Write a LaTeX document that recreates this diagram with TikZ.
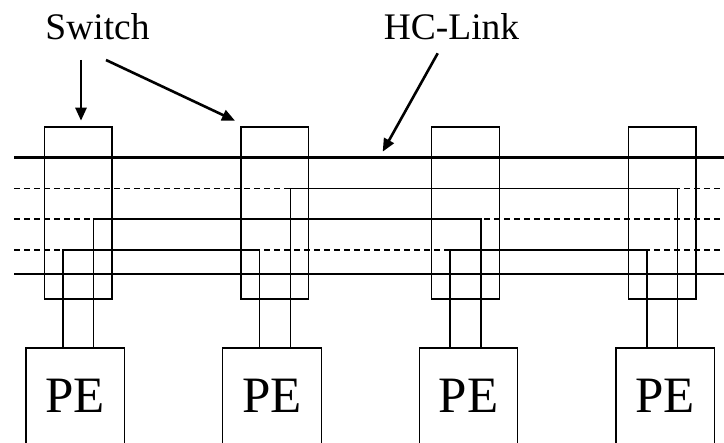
\documentclass[tikz,border=0pt]{standalone}
\usepackage{fontspec}
\setmainfont{Liberation Serif}
\usetikzlibrary{arrows.meta}
\begin{document}
\begin{tikzpicture}[x=1pt,y=-1pt,
  bus/.style={line width=2.8pt},
  lane/.style={line width=1.3pt, dash pattern=on 6pt off 4pt},
  wire/.style={line width=1.3pt},
  switchbox/.style={draw, line width=1.3pt, minimum width=67.7pt, minimum height=172pt, inner sep=0pt},
  pebox/.style={draw, line width=1.3pt, minimum width=98.5pt, minimum height=96pt, inner sep=0pt, font=\fontsize{51}{55}\selectfont},
  lbl/.style={anchor=base, inner sep=0pt, font=\fontsize{37.5}{40}\selectfont},
  pointer/.style={line width=2.6pt, -{Triangle[length=13pt,width=11pt]}}
]
\useasboundingbox (0,0) rectangle (724,443);
\clip (0,0) rectangle (724,443);

% bus lines
\coordinate (busL1) at (14,157.7);  \coordinate (busR1) at (724,157.7);
\coordinate (busL2) at (14,274);    \coordinate (busR2) at (724,274);
\coordinate (d1L) at (14,188.7);    \coordinate (d1R) at (724,188.7);
\coordinate (d2L) at (14,219);      \coordinate (d2R) at (724,219);
\coordinate (d3L) at (14,250);      \coordinate (d3R) at (724,250);
\draw[bus] (busL1) -- (busR1);
\draw[bus] (busL2) -- (busR2);
\draw[lane] (d1L) -- (d1R);
\draw[lane] (d2L) -- (d2R);
\draw[lane] (d3L) -- (d3R);

% switches
\node[switchbox] (sw1) at (78.2,213) {};
\node[switchbox] (sw2) at (274.9,213) {};
\node[switchbox] (sw3) at (465.3,213) {};
\node[switchbox] (sw4) at (662,213) {};

% PEs
\node[pebox] (pe1) at (75.3,396) {PE};
\node[pebox] (pe2) at (271.9,396) {PE};
\node[pebox] (pe3) at (468.5,396) {PE};
\node[pebox] (pe4) at (665.2,396) {PE};

% wire turning points
\coordinate (a1) at (63,250);
\coordinate (a2) at (259.7,250);
\coordinate (b1) at (93.7,219);
\coordinate (b3) at (481,219);
\coordinate (c2) at (290.3,188.7);
\coordinate (c4) at (677.7,188.7);
\coordinate (e3) at (450,250);
\coordinate (e4) at (647,250);

\draw[wire] (pe1.north -| a1) -- (a1) -- (a2) -- (pe2.north -| a2);
\draw[wire] (pe1.north -| b1) -- (b1) -- (b3) -- (pe3.north -| b3);
\draw[wire] (pe2.north -| c2) -- (c2) -- (c4) -- (pe4.north -| c4);
\draw[wire] (pe3.north -| e3) -- (e3) -- (e4) -- (pe4.north -| e4);

% labels
\node[lbl] (swl) at (97.5,39.3) {Switch};
\node[lbl] (hcl) at (451.5,39.3) {HC-Link};

\coordinate (s1a) at (81,60);   \coordinate (s1b) at (81,120.7);
\coordinate (s2a) at (106,60);  \coordinate (s2b) at (235,120.7);
\coordinate (h1a) at (437.7,53.3); \coordinate (h1b) at (382.7,151.7);
\draw[pointer] (s1a) -- (s1b);
\draw[pointer] (s2a) -- (s2b);
\draw[pointer] (h1a) -- (h1b);
\end{tikzpicture}
\end{document}
